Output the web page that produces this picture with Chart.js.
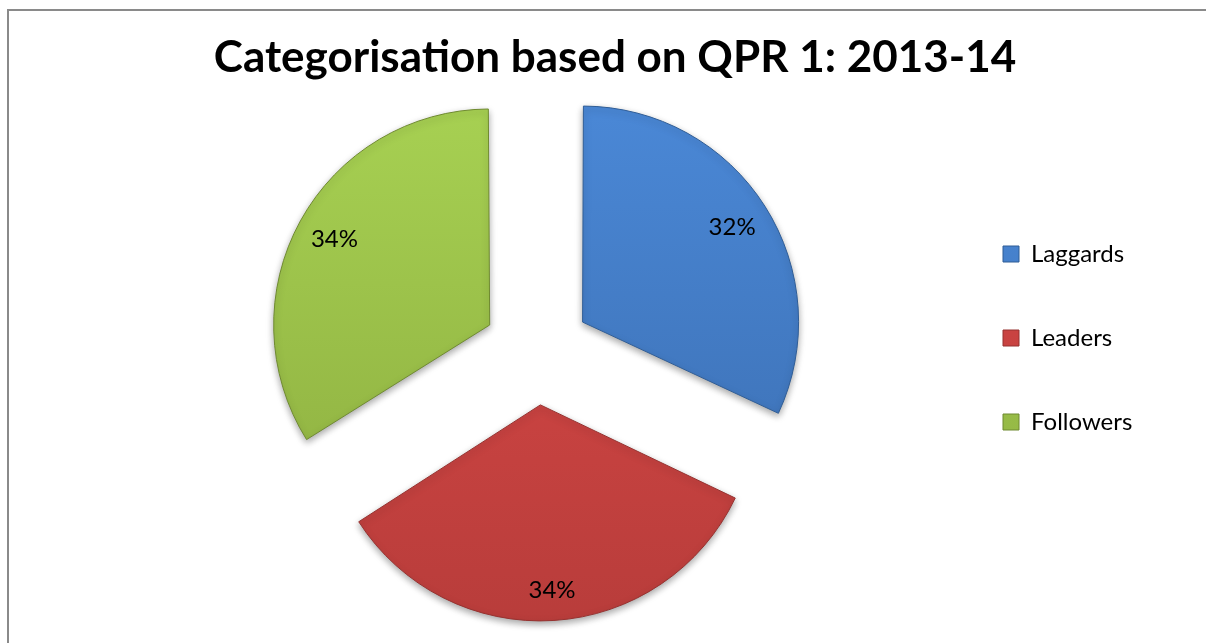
<!DOCTYPE html>
<html>
<head>
<meta charset="utf-8">
<script src="https://cdn.jsdelivr.net/npm/chart.js@4.4.1/dist/chart.umd.min.js"></script>
<style>
  html, body { margin: 0; padding: 0; background: #fff; overflow: hidden; }
  #frame { position: absolute; left: 7px; top: 9px; width: 1300px; height: 700px;
           border-left: 2px solid #8a8a8a; border-top: 2px solid #8a8a8a; }
  #wrap { position: absolute; left: 0; top: 0; width: 1206px; height: 643px; }
</style>
</head>
<body>
<div id="frame"></div>
<div id="wrap"><canvas id="pie-chart"></canvas></div>
<script>
const categories = ["Laggards", "Leaders", "Followers"];
const shares = [32, 34, 34];

const pieRadius = 216;
const explode = 216; // chart.js moves each arc by offset / 4

// top / bottom colours of each slice
const topColors = ["#4b89d8", "#d94947", "#a8d253"];
const bottomColors = ["#3a6cae", "#b43b39", "#8bab3e"];
const edgeColors = ["#2f5d96", "#963230", "#6f8a30"];

function sliceFill(context) {
  const i = context.dataIndex;
  const chart = context.chart;
  if (!chart.chartArea) return bottomColors[i];
  const g = chart.ctx.createLinearGradient(0, 110, 0, 630);
  g.addColorStop(0, topColors[i]);
  g.addColorStop(1, bottomColors[i]);
  return g;
}

// chart.js grows the radius of offset arcs, pull it back so all slices match
const keepRadius = {
  id: "keepRadius",
  afterDatasetUpdate(chart, args) {
    args.meta.data.forEach(arc => {
      const shift = (arc.options.offset || 0) / 4;
      const fix = 1 - Math.sin(Math.min(Math.PI, arc.circumference));
      arc.outerRadius = pieRadius - shift * fix;
    });
  }
};

// legend is kept narrow for the layout, widen its clip so the text shows
const legendRoom = {
  id: "legendRoom",
  afterLayout(chart) {
    if (chart.legend) {
      chart.legend.right += 80;
      chart.legend.width += 80;
    }
  }
};

const softShadow = {
  id: "softShadow",
  beforeDatasetsDraw(chart) {
    const ctx = chart.ctx;
    ctx.save();
    ctx.shadowColor = "rgba(0,0,0,0.35)";
    ctx.shadowBlur = 7;
    ctx.shadowOffsetY = 3;
  },
  afterDatasetsDraw(chart) {
    chart.ctx.restore();
  }
};

const sliceLabels = {
  id: "sliceLabels",
  afterDatasetsDraw(chart, args, opts) {
    const ctx = chart.ctx;
    const meta = chart.getDatasetMeta(0);
    ctx.save();
    ctx.font = "24px Lato";
    ctx.fillStyle = "#000";
    ctx.textAlign = "center";
    ctx.textBaseline = "middle";
    meta.data.forEach((arc, i) => {
      const mid = (arc.startAngle + arc.endAngle) / 2;
      const dist = (arc.options.offset || 0) / 4 + opts.radius[i] * pieRadius;
      ctx.fillText(shares[i] + "%", arc.x + Math.cos(mid) * dist, arc.y + Math.sin(mid) * dist);
    });
    ctx.restore();
  }
};

const data_pie = {
  labels: categories,
  datasets: [
    {
      data: shares,
      backgroundColor: sliceFill,
      borderColor: edgeColors,
      borderWidth: 1,
      offset: explode,
    },
  ],
};

const config_pie = {
  type: "pie",
  data: data_pie,
  plugins: [softShadow, keepRadius, legendRoom, sliceLabels],
  options: {
    responsive: true,
    maintainAspectRatio: false,
    animation: false,
    events: [],
    radius: pieRadius,
    layout: {
      padding: { left: 131, right: 107, top: 0, bottom: 123 },
    },
    plugins: {
      title: {
        display: true,
        text: "Categorisation based on QPR 1: 2013-14",
        color: "#000",
        font: { family: "Lato", size: 44, weight: "bold", lineHeight: 1.2 },
        padding: { top: 31.6, bottom: 97.6 },
      },
      legend: {
        position: "right",
        align: "start",
        fullSize: false,
        maxWidth: 156,
        labels: {
          color: "#000",
          font: { family: "Lato", size: 24 },
          boxWidth: 16,
          boxHeight: 16,
          padding: 60,
        },
      },
      tooltip: { enabled: false },
      sliceLabels: { radius: [0.82, 0.86, 0.82] },
    },
  },
};

var ctx_pie = document.getElementById("pie-chart").getContext("2d");
var myChart_pie = new Chart(ctx_pie, config_pie);
</script>
</body>
</html>
